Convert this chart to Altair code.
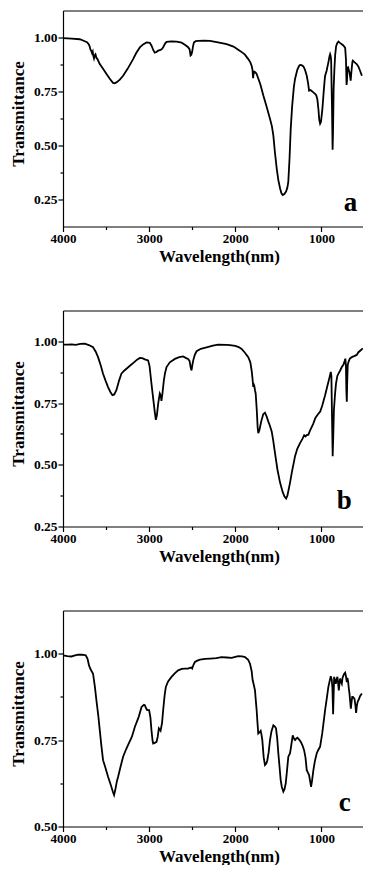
import altair as alt
import pandas as pd

# ---------------- data ----------------
wn_a = [4000, 3900, 3806, 3760, 3721, 3700, 3690, 3682, 3672, 3663, 3655, 3648, 3640, 3630, 3623, 3612,
        3600, 3573, 3535, 3495, 3455, 3419, 3400, 3380, 3340, 3302, 3250, 3186, 3150, 3108, 3070, 3030,
        2992, 2972, 2950, 2934, 2915, 2895, 2867, 2850, 2837, 2815, 2798, 2740, 2681, 2623, 2585, 2547,
        2530, 2519, 2510, 2500, 2490, 2480, 2460, 2430, 2360, 2294, 2200, 2100, 2020, 1945, 1890, 1849,
        1825, 1810, 1800, 1793, 1788, 1779, 1765, 1752, 1710, 1674, 1640, 1597, 1575, 1558, 1540, 1519,
        1500, 1480, 1465, 1449, 1430, 1410, 1395, 1384, 1370, 1356, 1340, 1320, 1306, 1280, 1260, 1248,
        1230, 1209, 1190, 1170, 1155, 1143, 1125, 1112, 1090, 1073, 1060, 1047, 1035, 1025, 1015, 1005,
        995, 988, 975, 965, 957, 940, 919, 905, 899, 893, 887, 878, 870, 865, 858, 849, 840, 829, 815,
        802, 785, 763, 745, 735, 724, 715, 708, 703, 697, 690, 682, 674, 667, 660, 652, 640, 635, 620,
        600, 588, 570, 550, 530, 510, 492, 480, 470, 460, 453, 440, 430, 414, 410]
t_a = [0.997, 0.995, 0.992, 0.985, 0.978, 0.968, 0.958, 0.945, 0.938, 0.928, 0.935, 0.915, 0.903, 0.918, 0.922, 0.906,
       0.900, 0.877, 0.855, 0.831, 0.808, 0.790, 0.788, 0.792, 0.805, 0.823, 0.855, 0.900, 0.928, 0.954, 0.968, 0.977,
       0.975, 0.962, 0.940, 0.930, 0.933, 0.939, 0.943, 0.947, 0.955, 0.972, 0.980, 0.982, 0.981, 0.976, 0.966, 0.955,
       0.945, 0.917, 0.920, 0.935, 0.960, 0.977, 0.983, 0.984, 0.985, 0.984, 0.977, 0.969, 0.958, 0.938, 0.922, 0.900,
       0.885, 0.869, 0.850, 0.812, 0.830, 0.842, 0.838, 0.831, 0.785, 0.731, 0.685, 0.624, 0.590, 0.547, 0.470, 0.394,
       0.340, 0.302, 0.280, 0.271, 0.275, 0.287, 0.305, 0.333, 0.440, 0.578, 0.680, 0.770, 0.808, 0.850, 0.868, 0.873,
       0.872, 0.866, 0.850, 0.823, 0.790, 0.754, 0.757, 0.752, 0.745, 0.739, 0.733, 0.714, 0.670, 0.620, 0.601, 0.610,
       0.645, 0.672, 0.740, 0.790, 0.823, 0.845, 0.885, 0.915, 0.923, 0.915, 0.895, 0.700, 0.480, 0.560, 0.760, 0.854,
       0.920, 0.960, 0.975, 0.981, 0.975, 0.969, 0.963, 0.958, 0.952, 0.900, 0.780, 0.800, 0.860, 0.862, 0.850, 0.838,
       0.820, 0.800, 0.840, 0.888, 0.893, 0.887, 0.880, 0.876, 0.865, 0.845, 0.823, 0.790, 0.762, 0.755, 0.700, 0.660,
       0.647, 0.660, 0.690, 0.693, 0.695]

wn_b = [4000, 3950, 3900, 3850, 3800, 3748, 3700, 3651, 3620, 3593, 3560, 3535, 3505, 3477, 3450, 3426, 3405,
        3380, 3350, 3322, 3290, 3263, 3220, 3186, 3140, 3108, 3080, 3050, 3012, 2995, 2973, 2950, 2935, 2922,
        2910, 2895, 2876, 2866, 2857, 2845, 2829, 2815, 2798, 2760, 2701, 2650, 2605, 2570, 2547, 2530, 2518,
        2508, 2498, 2488, 2470, 2449, 2400, 2333, 2260, 2198, 2100, 2062, 2000, 1960, 1926, 1890, 1849, 1825,
        1810, 1800, 1791, 1785, 1779, 1770, 1763, 1750, 1740, 1733, 1720, 1705, 1694, 1675, 1655, 1635, 1616,
        1600, 1577, 1560, 1539, 1510, 1480, 1450, 1430, 1410, 1395, 1380, 1364, 1340, 1320, 1306, 1280, 1248,
        1220, 1200, 1185, 1170, 1151, 1130, 1110, 1093, 1070, 1040, 1015, 990, 957, 930, 905, 891, 884, 877,
        869, 862, 855, 841, 830, 815, 802, 785, 763, 745, 730, 722, 715, 710, 705, 700, 694, 686, 670, 647,
        620, 590, 570, 540, 520, 504, 490, 475, 465, 453, 440, 425, 414, 410]
t_b = [0.987, 0.987, 0.988, 0.986, 0.990, 0.991, 0.985, 0.976, 0.958, 0.936, 0.900, 0.869, 0.840, 0.815, 0.795, 0.782, 0.785,
       0.802, 0.840, 0.869, 0.881, 0.889, 0.902, 0.912, 0.926, 0.933, 0.932, 0.927, 0.923, 0.900, 0.829, 0.760, 0.715, 0.682,
       0.700, 0.748, 0.789, 0.782, 0.759, 0.790, 0.842, 0.872, 0.896, 0.915, 0.929, 0.936, 0.939, 0.932, 0.929, 0.920, 0.895,
       0.882, 0.905, 0.923, 0.945, 0.960, 0.970, 0.976, 0.983, 0.987, 0.986, 0.985, 0.982, 0.977, 0.969, 0.955, 0.936, 0.915,
       0.882, 0.850, 0.815, 0.825, 0.820, 0.800, 0.789, 0.720, 0.650, 0.628, 0.640, 0.665, 0.682, 0.705, 0.711, 0.695, 0.675,
       0.660, 0.635, 0.600, 0.548, 0.480, 0.428, 0.390, 0.372, 0.363, 0.375, 0.400, 0.428, 0.475, 0.510, 0.535, 0.565, 0.588,
       0.605, 0.620, 0.615, 0.620, 0.622, 0.640, 0.655, 0.668, 0.690, 0.705, 0.715, 0.740, 0.782, 0.820, 0.855, 0.876, 0.860, 0.700,
       0.535, 0.620, 0.720, 0.789, 0.830, 0.860, 0.869, 0.880, 0.896, 0.905, 0.920, 0.930, 0.900, 0.800, 0.755, 0.840, 0.905, 0.916, 0.930, 0.936,
       0.940, 0.945, 0.956, 0.965, 0.972, 0.979, 0.976, 0.968, 0.970, 0.963, 0.950, 0.925, 0.909, 0.905]

wn_c = [4000, 3950, 3902, 3860, 3825, 3780, 3736, 3715, 3698, 3680, 3651, 3630, 3612, 3590, 3573, 3555, 3535,
        3510, 3477, 3445, 3420, 3407, 3390, 3375, 3360, 3330, 3302, 3270, 3244, 3200, 3166, 3120, 3088, 3060,
        3050, 3035, 3023, 3000, 2985, 2973, 2960, 2953, 2935, 2914, 2900, 2887, 2875, 2867, 2850, 2837, 2820,
        2806, 2780, 2740, 2700, 2663, 2620, 2585, 2550, 2527, 2510, 2500, 2485, 2469, 2440, 2410, 2350, 2290,
        2220, 2159, 2100, 2042, 2000, 1965, 1920, 1887, 1850, 1829, 1810, 1798, 1785, 1771, 1760, 1752, 1742,
        1733, 1720, 1705, 1695, 1686, 1670, 1655, 1640, 1628, 1612, 1597, 1580, 1558, 1540, 1527, 1513, 1500,
        1485, 1473, 1460, 1442, 1428, 1414, 1400, 1384, 1364, 1350, 1333, 1320, 1306, 1290, 1279, 1260, 1240,
        1220, 1201, 1185, 1170, 1155, 1143, 1130, 1120, 1110, 1093, 1075, 1054, 1035, 1015, 990, 957, 935, 919,
        905, 891, 880, 872, 864, 858, 852, 845, 833, 825, 814, 806, 798, 790, 783, 775, 763, 755, 744, 735,
        724, 715, 705, 698, 690, 682, 674, 665, 658, 650, 642, 635, 625, 616, 605, 597, 588, 578, 570, 550,
        530, 510, 492, 480, 470, 461, 450, 434, 420, 410]
t_c = [0.995, 0.993, 0.992, 0.995, 0.997, 0.997, 0.995, 0.985, 0.966, 0.955, 0.942, 0.905, 0.865, 0.820, 0.779, 0.735, 0.692,
       0.672, 0.644, 0.620, 0.600, 0.591, 0.610, 0.630, 0.644, 0.675, 0.702, 0.722, 0.736, 0.760, 0.788, 0.818, 0.846, 0.852,
       0.851, 0.842, 0.837, 0.837, 0.815, 0.779, 0.748, 0.740, 0.742, 0.745, 0.760, 0.784, 0.780, 0.777, 0.800, 0.837, 0.880,
       0.904, 0.920, 0.933, 0.944, 0.952, 0.956, 0.957, 0.957, 0.959, 0.960, 0.957, 0.968, 0.976, 0.980, 0.983, 0.985, 0.986,
       0.987, 0.990, 0.989, 0.988, 0.991, 0.993, 0.992, 0.990, 0.982, 0.971, 0.950, 0.923, 0.910, 0.894, 0.860, 0.837, 0.800,
       0.769, 0.772, 0.777, 0.765, 0.750, 0.700, 0.678, 0.682, 0.691, 0.715, 0.750, 0.775, 0.793, 0.789, 0.784, 0.755, 0.712,
       0.670, 0.635, 0.615, 0.601, 0.608, 0.625, 0.660, 0.702, 0.712, 0.735, 0.764, 0.755, 0.750, 0.755, 0.757, 0.752, 0.745,
       0.735, 0.721, 0.700, 0.663, 0.655, 0.649, 0.630, 0.615, 0.630, 0.663, 0.690, 0.712, 0.722, 0.731, 0.770, 0.837, 0.875, 0.904,
       0.920, 0.935, 0.925, 0.900, 0.825, 0.880, 0.933, 0.925, 0.913, 0.925, 0.933, 0.915, 0.894, 0.915, 0.928, 0.920, 0.913, 0.930, 0.937, 0.942,
       0.945, 0.935, 0.918, 0.930, 0.920, 0.900, 0.885, 0.860, 0.841, 0.860, 0.875, 0.875, 0.872, 0.870, 0.850, 0.829, 0.850, 0.862, 0.865, 0.878,
       0.885, 0.883, 0.880, 0.872, 0.860, 0.853, 0.865, 0.875, 0.885, 0.890]

panel_letters = ["a", "b", "c"]
letter_wn = [663, 734, 730]
letter_t = [0.195, 0.321, 0.545]

x_domain = [4000, 517]
x_ticks = [4000, 3500, 3000, 2500, 2000, 1500, 1000, 500]
y_domains = [[0.125, 1.125], [0.25, 1.125], [0.5, 1.125]]
y_ticks = [[0.25, 0.375, 0.5, 0.625, 0.75, 0.875, 1.0],
           [0.25, 0.375, 0.5, 0.625, 0.75, 0.875, 1.0],
           [0.5, 0.625, 0.75, 0.875, 1.0]]

FONT = "Liberation Serif"
W, H = 300, 216
MAJOR_Y = "abs(datum.value*4 - round(datum.value*4)) < 0.001"


def panel(wn, t, ydom, yvals, letter, lw, lt):
    df = pd.DataFrame({"w": wn, "t": t})
    xscale = alt.Scale(domain=x_domain, nice=False, zero=False)
    yscale = alt.Scale(domain=ydom, nice=False, zero=False)
    xaxis = alt.Axis(values=x_ticks, format="d",
                     labelExpr="datum.value % 1000 === 0 ? datum.label : ''",
                     tickSize={"condition": {"test": "datum.value % 1000 === 0", "value": 5}, "value": 3},
                     title="Wavelength(nm)", titleX=156, titleY=34.5, titleBaseline="alphabetic",
                     labelPadding=1, labelFontSize=13, labelFlush=False, labelOverlap=False)
    yaxis = alt.Axis(values=yvals,
                     labelExpr=MAJOR_Y + " ? format(datum.value, '.2f') : ''",
                     tickSize={"condition": {"test": MAJOR_Y, "value": 5}, "value": 3},
                     title="Transmittance", titleX=-40, titleY=103, titleAngle=270,
                     titleAlign="center", titleBaseline="alphabetic",
                     labelPadding=1, labelFlush=False, labelOverlap=False)
    ychan = alt.Y("t:Q", scale=yscale, axis=yaxis)
    keep = "datum.w >= %d" % x_domain[1]
    line = alt.Chart(df).transform_filter(keep).mark_line(
        color="black", strokeWidth=1.8, clip=True).encode(
        x=alt.X("w:Q", scale=xscale, axis=xaxis),
        y=ychan,
    )
    topaxis = alt.Chart(df).transform_filter(keep).mark_line(strokeOpacity=0, clip=True).encode(
        x=alt.X("w:Q", scale=xscale,
                axis=alt.Axis(orient="top", labels=False, ticks=False, title=None,
                              domain=True, minExtent=0, maxExtent=0)),
        y=ychan,
    )
    ldf = pd.DataFrame({"w": [lw], "t": [lt], "lab": [letter]})
    text = alt.Chart(ldf).mark_text(font=FONT, fontWeight="bold", fontSize=27, color="black",
                                    align="center", baseline="alphabetic").encode(
        x=alt.X("w:Q", scale=xscale, axis=None),
        y=ychan,
        text="lab:N",
    )
    return alt.layer(line, text, topaxis).resolve_axis(x="independent").properties(width=W, height=H)


series = [(wn_a, t_a), (wn_b, t_b), (wn_c, t_c)]
panels = [
    panel(series[i][0], series[i][1], y_domains[i], y_ticks[i], panel_letters[i], letter_wn[i], letter_t[i])
    for i in range(3)
]

chart = alt.vconcat(*panels, spacing=84, bounds="flush").properties(
    padding={"left": 1, "top": 2.5, "right": 0, "bottom": 0}
).configure_view(stroke=None).configure_axis(
    labelFont=FONT, labelFontWeight="bold", labelFontSize=13.5, labelColor="black",
    titleFont=FONT, titleFontWeight="bold", titleFontSize=17, titleColor="black",
    domainColor="black", domainWidth=1.2, tickColor="black", tickWidth=1.2, grid=False,
)

chart.save("out.html", embed_options={"renderer": "svg", "actions": False})
